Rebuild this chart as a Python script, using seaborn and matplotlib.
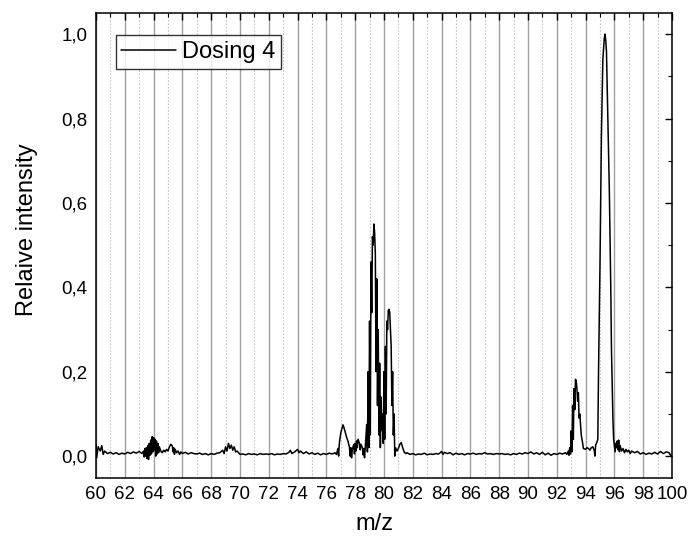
import pandas as pd
import seaborn as sns
import matplotlib.pyplot as plt
from matplotlib.ticker import MultipleLocator, FuncFormatter

# spectrum (m/z vs. relative intensity)
mz = [
    60.0, 60.05, 60.15, 60.3, 60.4, 60.5, 60.6, 60.8, 61.0, 61.2, 61.4, 61.6, 61.8, 62.0, 62.2, 62.4,
    62.6, 62.8, 63.0, 63.2,
    63.3, 63.35, 63.4, 63.45, 63.5, 63.55, 63.6, 63.65, 63.7, 63.75, 63.8, 63.85, 63.9, 63.95, 64.0,
    64.05, 64.1, 64.15, 64.2, 64.25, 64.3, 64.35, 64.4, 64.5, 64.6, 64.7, 64.8, 64.9, 65.0, 65.1,
    65.2, 65.3, 65.35, 65.4, 65.45, 65.5, 65.6, 65.7, 65.8, 65.9,
    66.0, 66.2, 66.4, 66.6, 66.8, 67.0, 67.2, 67.4, 67.6, 67.8, 68.0, 68.2, 68.4, 68.6, 68.8, 68.9,
    69.0, 69.1, 69.2, 69.3, 69.4, 69.5, 69.6, 69.7, 69.8,
    70.0, 70.2, 70.4, 70.6, 70.8, 71.0, 71.2, 71.4, 71.6, 71.8, 72.0, 72.2, 72.4, 72.6, 72.8, 73.0,
    73.2, 73.4, 73.5, 73.6, 73.8, 74.0, 74.1, 74.2, 74.4, 74.6, 74.8, 75.0, 75.2, 75.4, 75.6, 75.8,
    76.0, 76.2, 76.4, 76.6, 76.7, 76.8, 76.85, 76.9,
    77.0, 77.1, 77.15, 77.2, 77.3, 77.4, 77.5, 77.6, 77.65, 77.7, 77.75, 77.8, 77.9, 77.95,
    78.0, 78.05, 78.1, 78.15, 78.2, 78.3, 78.35, 78.4, 78.5, 78.55, 78.6, 78.65, 78.7, 78.8, 78.85,
    78.9, 78.95,
    79.0, 79.05, 79.1, 79.15, 79.2, 79.25, 79.3, 79.35, 79.4, 79.45, 79.5, 79.55, 79.6, 79.65, 79.7,
    79.75, 79.8, 79.85, 79.9, 79.95,
    80.0, 80.05, 80.1, 80.15, 80.2, 80.25, 80.3, 80.35, 80.4, 80.45, 80.5, 80.55, 80.6, 80.65, 80.7,
    80.75, 80.8, 80.9, 81.0, 81.1, 81.2, 81.3, 81.4, 81.5, 81.6, 81.8,
    82.0, 82.2, 82.4, 82.6, 82.8, 83.0, 83.2, 83.4, 83.6, 83.8, 84.0, 84.1, 84.2, 84.4, 84.6, 84.8,
    85.0, 85.2, 85.4, 85.6, 85.8, 86.0, 86.2, 86.4, 86.6, 86.8, 87.0, 87.2, 87.4, 87.6, 87.8,
    88.0, 88.2, 88.4, 88.6, 88.8, 89.0, 89.2, 89.4, 89.6, 89.8, 90.0, 90.2, 90.4, 90.6, 90.8,
    91.0, 91.2, 91.4, 91.6, 91.8, 92.0, 92.2, 92.4, 92.6, 92.7, 92.8, 92.85, 92.9, 92.95,
    93.0, 93.05, 93.1, 93.15, 93.2, 93.25, 93.3, 93.35, 93.4, 93.45, 93.5, 93.55, 93.6, 93.7, 93.8,
    93.85, 94.0, 94.1, 94.2, 94.3, 94.4, 94.5, 94.6, 94.65, 94.7, 94.8, 94.85, 94.9,
    95.0, 95.1, 95.2, 95.3, 95.35, 95.4, 95.45, 95.55, 95.65, 95.75, 95.8, 95.9, 95.95,
    96.0, 96.05, 96.1, 96.15, 96.2, 96.25, 96.3, 96.35, 96.4, 96.5, 96.6, 96.7, 96.8, 96.9,
    97.0, 97.1, 97.2, 97.4, 97.6, 97.8, 98.0, 98.2, 98.4, 98.6, 98.8, 99.0, 99.2, 99.4, 99.6, 99.8,
    99.9, 100.0,
]
intensity = [
    0.028, -0.004, 0.022, 0.012, 0.025, 0.004, 0.012, 0.006, 0.009, 0.005, 0.008, 0.004, 0.007, 0.005, 0.009, 0.006,
    0.010, 0.007, 0.011, 0.006,
    0.012, -0.002, 0.018, 0.000, 0.020, -0.006, 0.025, -0.008, 0.030, 0.002, 0.038, 0.005, 0.046, 0.010, 0.044,
    0.015, 0.040, 0.000, 0.036, 0.005, 0.030, 0.008, 0.022, 0.012, 0.008, 0.014, 0.010, 0.016, 0.012, 0.022,
    0.028, 0.024, 0.010, 0.020, 0.004, 0.016, 0.008, 0.012, 0.004, 0.010,
    0.006, 0.009, 0.005, 0.008, 0.006, 0.005, 0.007, 0.004, 0.006, 0.003, 0.006, 0.004, 0.007, 0.008, 0.014, 0.006,
    0.022, 0.012, 0.030, 0.018, 0.026, 0.014, 0.022, 0.010, 0.012,
    0.004, 0.005, 0.003, 0.006, 0.004, 0.005, 0.003, 0.006, 0.004, 0.005, 0.004, 0.006, 0.003, 0.005, 0.004, 0.006,
    0.005, 0.009, 0.014, 0.006, 0.010, 0.016, 0.008, 0.012, 0.006, 0.010, 0.005, 0.008, 0.004, 0.007, 0.003, 0.006,
    0.004, 0.007, 0.005, 0.008, 0.004, 0.018, 0.000, 0.030,
    0.055, 0.068, 0.074, 0.070, 0.058, 0.045, 0.035, 0.022, 0.000, 0.020, -0.004, 0.015, 0.028, 0.005,
    0.030, 0.012, 0.036, 0.020, 0.040, 0.030, 0.015, 0.028, 0.020, 0.003, 0.018, -0.004, 0.020, 0.075, 0.010,
    0.200, 0.020,
    0.320, 0.050, 0.460, 0.340, 0.520, 0.500, 0.550, 0.530, 0.480, 0.200, 0.420, 0.120, 0.300, 0.050, 0.220,
    0.020, 0.140, 0.060, 0.100, 0.030,
    0.200, 0.040, 0.260, 0.100, 0.320, 0.300, 0.345, 0.348, 0.340, 0.300, 0.260, 0.120, 0.200, 0.050, 0.100,
    0.000, 0.020, 0.012, 0.018, 0.028, 0.032, 0.020, 0.010, 0.006, 0.008, 0.004,
    0.006, 0.003, 0.005, 0.004, 0.007, 0.003, 0.005, 0.004, 0.006, 0.005, 0.011, 0.004, 0.009, 0.006, 0.008, 0.003,
    0.007, 0.004, 0.006, 0.003, 0.006, 0.005, 0.007, 0.004, 0.006, 0.005, 0.008, 0.005, 0.006, 0.004, 0.006,
    0.005, 0.006, 0.004, 0.005, 0.003, 0.006, 0.004, 0.007, 0.005, 0.008, 0.006, 0.010, 0.005, 0.008, 0.004,
    0.009, 0.003, 0.007, 0.002, 0.006, 0.004, 0.007, 0.005, 0.008, 0.004, 0.012, 0.002, 0.020, 0.005,
    0.060, 0.010, 0.120, 0.040, 0.160, 0.110, 0.182, 0.178, 0.160, 0.130, 0.150, 0.090, 0.100, 0.050, 0.030,
    0.018, 0.016, 0.020, 0.018, 0.014, 0.020, 0.022, 0.014, 0.000, 0.026, 0.034, 0.040, 0.200,
    0.450, 0.760, 0.940, 0.990, 1.000, 0.985, 0.960, 0.800, 0.630, 0.400, 0.250, 0.085, 0.040,
    0.025, 0.010, 0.030, 0.020, 0.036, 0.015, 0.038, 0.010, 0.025, 0.012, 0.018, 0.008, 0.016, 0.010,
    0.014, 0.006, 0.012, 0.008, 0.011, 0.005, 0.008, 0.004, 0.007, 0.005, 0.009, 0.005, 0.011, 0.006, 0.010, 0.008,
    0.002, 0.003,
]
series_label = "Dosing 4"
x_major_ticks = list(range(60, 101, 2))
y_major_ticks = [0.0, 0.2, 0.4, 0.6, 0.8, 1.0]

df = pd.DataFrame({"mz": mz, "intensity": intensity})

sns.set_theme(style="white")
plt.rcParams['font.family'] = ['Liberation Sans', 'DejaVu Sans']
plt.rcParams['text.color'] = 'black'
plt.rcParams['axes.labelcolor'] = 'black'
plt.rcParams['xtick.color'] = 'black'
plt.rcParams['ytick.color'] = 'black'

fig = plt.figure(figsize=(6.88, 5.42), dpi=100)
ax = fig.add_axes([0.1395, 0.118, 0.8372, 0.858])

sns.lineplot(data=df, x="mz", y="intensity", color="black", linewidth=1.1,
             estimator=None, sort=False, label=series_label, ax=ax)

ax.set_xlim(60, 100)
ax.set_ylim(-0.052, 1.05)
ax.set_xticks(x_major_ticks)
ax.set_yticks(y_major_ticks)
ax.xaxis.set_minor_locator(MultipleLocator(1))
ax.yaxis.set_minor_locator(MultipleLocator(0.1))
ax.yaxis.set_major_formatter(FuncFormatter(lambda v, p: f"{v:.1f}".replace(".", ",")))

# vertical grid: solid on even m/z, dotted on odd
ax.set_axisbelow(True)
ax.grid(which="major", axis="x", color="#a0a0a0", linewidth=1.0, linestyle="-")
ax.grid(which="minor", axis="x", color="#c4c4c4", linewidth=0.8, linestyle=(0, (1.5, 1.5)))
ax.grid(which="both", axis="y", visible=False)

ax.tick_params(which="both", direction="in", top=True, right=True, color="black")
ax.tick_params(which="major", length=5, width=1.0, labelsize=13.5, pad=6)
ax.tick_params(which="minor", length=3, width=0.8)
for sp in ax.spines.values():
    sp.set_color("black")
    sp.set_linewidth(1.1)

ax.set_xlabel("m/z", fontsize=17)
ax.set_ylabel("Relaive intensity", fontsize=17)
ax.xaxis.set_label_coords(0.484, -0.075)
ax.yaxis.set_label_coords(-0.100, 0.535)

leg = ax.legend(loc="upper left", bbox_to_anchor=(0.034, 0.952), fontsize=17,
                frameon=True, fancybox=False, edgecolor="black", handlelength=2.3,
                borderaxespad=0, borderpad=0.25, handletextpad=0.25)
leg.get_frame().set_linewidth(1.0)

fig.savefig("out.png", dpi=100)
